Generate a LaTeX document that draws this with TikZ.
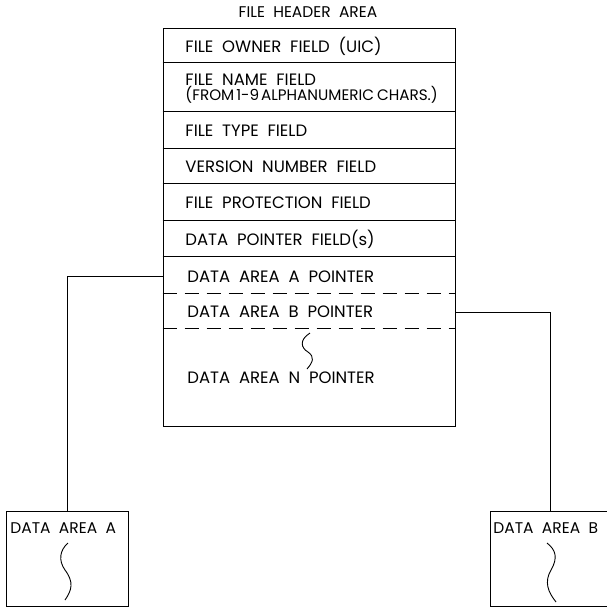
\documentclass[tikz,border=0pt]{standalone}
\usepackage{fontspec}
\setmainfont[WordSpace=2]{Poppins}
\usetikzlibrary{positioning, calc}

\begin{document}
\begin{tikzpicture}[
  x=1pt, y=-1pt,
  line width=0.9pt,
  field/.style={anchor=base west, inner sep=0pt, font=\fontsize{16.5}{18}\selectfont},
  areabox/.style={draw, minimum width=122pt, minimum height=95pt, inner sep=0pt},
  sepline/.style={dash pattern=on 14pt off 8pt}
]
  \useasboundingbox (0,0) rectangle (606,608);

  % header block
  \node[anchor=base, inner sep=0pt, font=\fontsize{15.5}{17}\selectfont] (title) at (308,17) {FILE HEADER AREA};
  \node[draw, minimum width=292pt, minimum height=398pt, inner sep=0pt] (hdr) at (309,227) {};
  \foreach \y in {62,111,148,183,220,256}
    \draw (hdr.west |- 0,\y) -- (hdr.east |- 0,\y);
  \foreach \y in {293,328}
    \draw[sepline] (hdr.west |- 0,\y) -- (hdr.east |- 0,\y);

  \node[field] (owner) at (185,52) {FILE OWNER FIELD (UIC)};
  \node[field] (fname) at (185,85) {FILE NAME FIELD};
  \node[field, font=\fontsize{15.2}{17}\selectfont] (fchars) at (185,100) {(FROM\hspace{2pt}1-9\hspace{2pt}ALPHANUMERIC\hspace{3pt}CHARS.)};
  \node[field] (ftype) at (185,136) {FILE TYPE FIELD};
  \node[field] (fvers) at (185,172) {VERSION NUMBER FIELD};
  \node[field] (fprot) at (185,208) {FILE PROTECTION FIELD};
  \node[field] (fdata) at (185,245) {DATA POINTER FIELD(s)};
  \node[field] (ptrA) at (187,282) {DATA AREA A POINTER};
  \node[field] (ptrB) at (187,317) {DATA AREA B POINTER};
  \node[field] (ptrN) at (187,383) {DATA AREA N POINTER};
  \draw (310,333) .. controls (299,340) and (301,348) .. (308,352)
        .. controls (315,357) and (313,362) .. (307,369);

  % data areas
  \node[areabox] (areaA) at (67,558.5) {};
  \node[areabox, minimum width=130pt] (areaB) at (555,559) {};
  \node[field, font=\fontsize{15.5}{17}\selectfont] (labA) at (10,533) {DATA AREA A};
  \node[field, font=\fontsize{15.5}{17}\selectfont] (labB) at (493,533) {DATA AREA B};
  \draw (68,543) .. controls (60,550) and (58,560) .. (65,570)
        .. controls (74,582) and (72,590) .. (65,600);
  \draw (547,543) .. controls (556,550) and (558,558) .. (551,570)
        .. controls (544,582) and (548,592) .. (556,602);

  % pointers
  \draw (hdr.west |- 0,276) -| (areaA.north);
  \draw (hdr.east |- 0,312) -| ($(areaB.north)+(-5,0)$);
\end{tikzpicture}
\end{document}
